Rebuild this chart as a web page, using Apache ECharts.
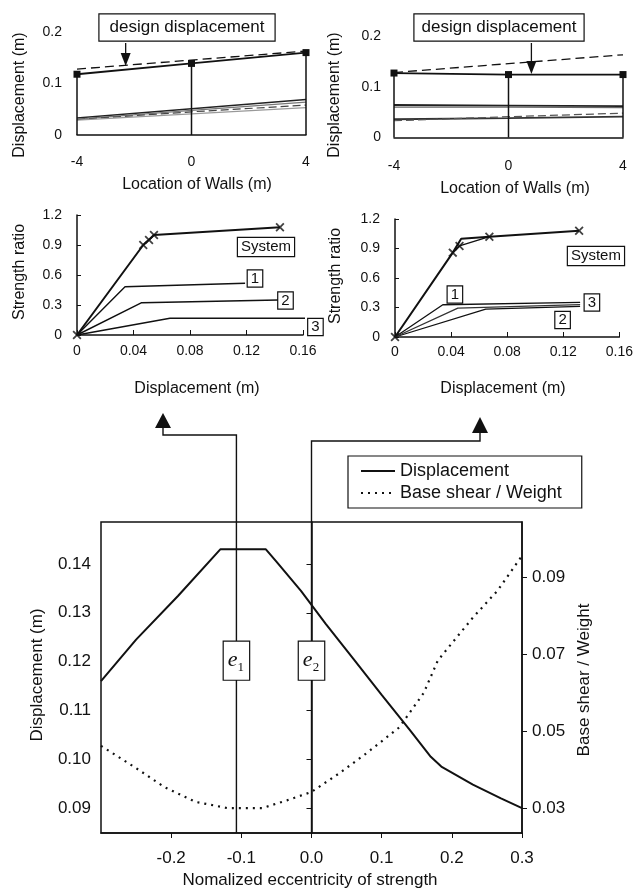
<!DOCTYPE html>
<html>
<head>
<meta charset="utf-8">
<script src="https://cdn.jsdelivr.net/npm/echarts@6/dist/echarts.min.js"></script>
<style>
  html, body { margin: 0; padding: 0; background: #fff; }
  #chart { width: 636px; height: 888px; }
</style>
</head>
<body>
<div id="chart"></div>
<script>
// ---- data ----
// top panels: displacement at the three walls (m)
var wallPos = [-4, 0, 4];
var designDisp = [0.128, 0.1455, 0.163];
var sysDispA = [0.118, 0.139, 0.160];
var wallDispA1 = [0.033, 0.051, 0.069];
var wallDispA2 = [0.031, 0.048, 0.064];
var wallDispA3 = [0.030, 0.045, 0.058];
var wallDispA4 = [0.029, 0.041, 0.053];
var sysDispB = [0.127, 0.124, 0.124];
var wallDispB1 = [0.064, 0.063, 0.062];
var wallDispB2 = [0.060, 0.060, 0.059];
var wallDispB3 = [0.036, 0.038, 0.041];
var wallDispB4 = [0.033, 0.041, 0.048];

// middle panels: [displacement (m), strength ratio]
var pushSysA = [[0, 0], [0.0469, 0.90], [0.0545, 1.00], [0.1437, 1.077]];
var pushSysAMarks = [[0, 0], [0.0469, 0.90], [0.051, 0.95], [0.0545, 1.00], [0.1437, 1.077]];
var pushA1 = [[0, 0], [0.034, 0.483], [0.119, 0.517]];
var pushA2 = [[0, 0], [0.0458, 0.323], [0.1425, 0.35]];
var pushA3 = [[0, 0], [0.0658, 0.167], [0.163, 0.167]];

var pushSysB = [[0, 0], [0.0412, 0.858], [0.0472, 1.00], [0.0673, 1.02], [0.1313, 1.08]];
var pushSysB2 = [[0.0412, 0.858], [0.046, 0.926], [0.0673, 1.02]];
var pushSysBMarks = [[0, 0], [0.0412, 0.858], [0.046, 0.926], [0.0673, 1.02], [0.1313, 1.08]];
var pushB1 = [[0, 0], [0.0341, 0.328], [0.132, 0.352]];
var pushB2 = [[0, 0], [0.0647, 0.284], [0.132, 0.311]];
var pushB3 = [[0, 0], [0.0448, 0.294], [0.132, 0.33]];

// bottom panel: [normalized eccentricity, value]
var dispCurve = [[-0.30, 0.116], [-0.25, 0.1245], [-0.19, 0.1335], [-0.13, 0.143], [-0.065, 0.143],
  [-0.05, 0.1405], [-0.015, 0.1345], [0.02, 0.1278], [0.06, 0.1205], [0.10, 0.1132], [0.14, 0.1060],
  [0.17, 0.1005], [0.185, 0.0985], [0.23, 0.0948], [0.27, 0.092], [0.30, 0.090]];
var shearCurve = [[-0.30, 0.0462], [-0.25, 0.0404], [-0.21, 0.0355], [-0.165, 0.0316], [-0.12, 0.0300],
  [-0.07, 0.0300], [-0.035, 0.0320], [0.0, 0.0342], [0.04, 0.0391], [0.08, 0.0445], [0.125, 0.0510],
  [0.16, 0.0600], [0.18, 0.0684], [0.195, 0.0718], [0.23, 0.0796], [0.265, 0.0866], [0.30, 0.0957]];
var eccE1 = -0.107;
var eccE2 = 0.0;

// tick labels
var eccTicks = [-0.2, -0.1, 0.0, 0.1, 0.2, 0.3];
var dispTicks = [0.09, 0.10, 0.11, 0.12, 0.13, 0.14];
var shearTicks = [0.03, 0.05, 0.07, 0.09];

// ---- styles ----
var INK = '#111';
var FONT = 'Liberation Sans, Arial, sans-serif';
var X_MARK = 'path://M0,1.4L1.4,0L5,3.6L8.6,0L10,1.4L6.4,5L10,8.6L8.6,10L5,6.4L1.4,10L0,8.6L3.6,5Z';

function zip(xs, ys) {
    return xs.map(function(x, i) { return [x, ys[i]]; });
}

function lbl(size, margin, extra) {
    var o = { color: INK, fontSize: size, fontFamily: FONT, margin: margin };
    for (var k in extra || {}) o[k] = extra[k];
    return o;
}

function line(axis, data, width, color, type, extra) {
    var s = {
        type: 'line', xAxisIndex: axis, yAxisIndex: axis, data: data,
        symbol: 'none', silent: true, animation: false,
        lineStyle: { color: color || INK, width: width, type: type || 'solid' }
    };
    for (var k in extra || {}) s[k] = extra[k];
    return s;
}

function marks(axis, data) {
    return {
        type: 'scatter', xAxisIndex: axis, yAxisIndex: axis, data: data,
        symbol: X_MARK, symbolSize: 9, itemStyle: { color: INK }, silent: true, z: 5
    };
}

var chart = echarts.init(document.getElementById('chart'));

var series = [];
// top-left
series.push(line(0, zip(wallPos, designDisp), 1.3, INK, [9, 5]));
series.push(line(0, zip(wallPos, wallDispA1), 1.6, '#222'));
series.push(line(0, zip(wallPos, wallDispA2), 1.2, '#777'));
series.push(line(0, zip(wallPos, wallDispA3), 1.2, '#444', [8, 4]));
series.push(line(0, zip(wallPos, wallDispA4), 1.2, '#999'));
wallPos.forEach(function(w, i) {
    series.push(line(0, [[w, 0], [w, sysDispA[i]]], 1.5));
});
series.push(line(0, zip(wallPos, sysDispA), 1.8, INK, 'solid',
    { symbol: 'rect', symbolSize: 7, itemStyle: { color: INK } }));
// top-right
series.push(line(1, zip(wallPos, designDisp), 1.3, INK, [9, 5]));
series.push(line(1, zip(wallPos, wallDispB1), 1.8, '#222'));
series.push(line(1, zip(wallPos, wallDispB2), 1.2, '#666'));
series.push(line(1, zip(wallPos, wallDispB3), 1.8, '#333'));
series.push(line(1, zip(wallPos, wallDispB4), 1.2, '#555', [8, 4]));
wallPos.forEach(function(w, i) {
    series.push(line(1, [[w, 0], [w, sysDispB[i]]], 1.5));
});
series.push(line(1, zip(wallPos, sysDispB), 1.8, INK, 'solid',
    { symbol: 'rect', symbolSize: 7, itemStyle: { color: INK } }));
// middle-left
series.push(line(2, pushSysA, 2));
series.push(line(2, pushA1, 1.4));
series.push(line(2, pushA2, 1.4));
series.push(line(2, pushA3, 1.4, INK, 'solid', { clip: false }));
series.push(marks(2, pushSysAMarks));
// middle-right
series.push(line(3, pushSysB, 2));
series.push(line(3, pushSysB2, 1.4));
series.push(line(3, pushB1, 1.3));
series.push(line(3, pushB2, 1.3));
series.push(line(3, pushB3, 1.3, '#333'));
series.push(marks(3, pushSysBMarks));
// bottom
series.push({
    name: 'Displacement', type: 'line', xAxisIndex: 4, yAxisIndex: 4, data: dispCurve,
    symbol: 'none', silent: true, lineStyle: { color: INK, width: 2 }, itemStyle: { color: INK }
});
series.push({
    name: 'Base shear / Weight', type: 'line', xAxisIndex: 4, yAxisIndex: 5, data: shearCurve,
    symbol: 'none', silent: true, lineStyle: { color: INK, width: 2.2, type: [2, 5] }, itemStyle: { color: INK }
});

var axisLine = { show: true, lineStyle: { color: INK, width: 1.5 } };
var noLine = { show: false };

var option = {
    animation: false,
    backgroundColor: '#fff',
    textStyle: { fontFamily: FONT, color: INK },
    grid: [
        { left: 77, top: 32, width: 229, height: 103, containLabel: false },
        { left: 394, top: 36, width: 229, height: 101.5, containLabel: false },
        { left: 77, top: 215, width: 226, height: 120, containLabel: false },
        { left: 395, top: 219, width: 225, height: 118, containLabel: false },
        { left: 101, top: 522, width: 421, height: 311, containLabel: false,
          show: true, borderColor: INK, borderWidth: 1.5, backgroundColor: 'transparent' }
    ],
    legend: {
        left: 348, top: 456, orient: 'vertical',
        itemWidth: 34, itemHeight: 12, itemGap: 4,
        padding: [6, 20, 6, 12],
        borderColor: INK, borderWidth: 1.2, borderRadius: 0,
        backgroundColor: '#fff',
        itemStyle: { opacity: 0 },
        textStyle: { color: INK, fontSize: 18, fontFamily: FONT },
        data: ['Displacement', 'Base shear / Weight']
    },
    xAxis: [
        { gridIndex: 0, type: 'value', min: -4, max: 4, interval: 4, axisLine: axisLine,
          axisTick: noLine, splitLine: noLine, axisLabel: lbl(14, 20) },
        { gridIndex: 1, type: 'value', min: -4, max: 4, interval: 4, axisLine: axisLine,
          axisTick: noLine, splitLine: noLine, axisLabel: lbl(14, 22) },
        { gridIndex: 2, type: 'value', min: 0, max: 0.16, interval: 0.04, axisLine: axisLine,
          axisTick: { inside: true, length: 5, lineStyle: { color: INK } }, splitLine: noLine,
          axisLabel: lbl(14, 9) },
        { gridIndex: 3, type: 'value', min: 0, max: 0.16, interval: 0.04, axisLine: axisLine,
          axisTick: { inside: true, length: 5, lineStyle: { color: INK } }, splitLine: noLine,
          axisLabel: lbl(14, 8) },
        { gridIndex: 4, type: 'value', min: -0.3, max: 0.3, axisLine: axisLine,
          axisTick: { length: 5, customValues: eccTicks, lineStyle: { color: INK } }, splitLine: noLine,
          axisLabel: lbl(17, 17, {
              customValues: eccTicks,
              formatter: function(v) { return Math.abs(v) < 1e-9 ? '0.0' : v.toFixed(1); }
          }) }
    ],
    yAxis: [
        { gridIndex: 0, type: 'value', min: 0, max: 0.2, interval: 0.1, axisLine: noLine,
          axisTick: noLine, splitLine: noLine, axisLabel: lbl(14, 15) },
        { gridIndex: 1, type: 'value', min: 0, max: 0.2, interval: 0.1, axisLine: noLine,
          axisTick: noLine, splitLine: noLine, axisLabel: lbl(14, 13) },
        { gridIndex: 2, type: 'value', min: 0, max: 1.2, interval: 0.3, axisLine: axisLine,
          axisTick: { show: true, inside: true, length: 4, lineStyle: { color: INK } }, splitLine: noLine,
          axisLabel: lbl(14, 15) },
        { gridIndex: 3, type: 'value', min: 0, max: 1.2, interval: 0.3, axisLine: axisLine,
          axisTick: { show: true, inside: true, length: 4, lineStyle: { color: INK } }, splitLine: noLine,
          axisLabel: lbl(14, 15) },
        { gridIndex: 4, type: 'value', position: 'left', min: 0.0849, max: 0.1486, axisLine: axisLine,
          axisTick: { show: true, length: 5, customValues: dispTicks, lineStyle: { color: INK } },
          splitLine: noLine,
          axisLabel: lbl(17, 10, { customValues: dispTicks, formatter: function(v) { return v.toFixed(2); } }) },
        { gridIndex: 4, type: 'value', position: 'right', min: 0.0235, max: 0.1045, axisLine: axisLine,
          axisTick: { show: true, length: 5, customValues: shearTicks, lineStyle: { color: INK } },
          splitLine: noLine,
          axisLabel: lbl(17, 10, { customValues: shearTicks, formatter: function(v) { return v.toFixed(2); } }) }
    ],
    series: series
};

chart.setOption(option);

// ---- annotations (anchored to data through the axes) ----
function at(axis, yAxis, pt) {
    return chart.convertToPixel({ xAxisIndex: axis, yAxisIndex: yAxis }, pt);
}

function txt(x, y, s, size, rot, extra) {
    var st = { text: s, fontSize: size, fontFamily: FONT, fill: INK,
               align: 'center', verticalAlign: 'middle', textAlign: 'center', textVerticalAlign: 'middle' };
    for (var k in extra || {}) st[k] = extra[k];
    return { type: 'text', x: x, y: y, rotation: rot || 0, z: 60, style: st };
}

function boxed(p, s, size, pad) {
    return txt(p[0], p[1], s, size, 0,
        { backgroundColor: '#fff', borderColor: INK, borderWidth: 1.2, padding: pad });
}

function arrowDown(x, y0, tip) {
    return [
        { type: 'line', z: 55, shape: { x1: x, y1: y0, x2: x, y2: tip - 12 }, style: { stroke: INK, lineWidth: 1.3 } },
        { type: 'polygon', z: 55, shape: { points: [[x - 5, tip - 13], [x + 5, tip - 13], [x, tip]] }, style: { fill: INK } }
    ];
}

var g = [];
var V = Math.PI / 2;

// axis titles
g.push(txt(20, 95, 'Displacement (m)', 16, V));
g.push(txt(335, 95, 'Displacement (m)', 16, V));
g.push(txt(197, 185, 'Location of Walls (m)', 16));
g.push(txt(515, 189, 'Location of Walls (m)', 16));
g.push(txt(20, 272, 'Strength ratio', 16, V));
g.push(txt(336, 276, 'Strength ratio', 16, V));
g.push(txt(197, 389, 'Displacement (m)', 16));
g.push(txt(503, 389, 'Displacement (m)', 16));
g.push(txt(37, 675, 'Displacement (m)', 17, V));
g.push(txt(584, 680, 'Base shear / Weight', 17, V));
g.push(txt(310, 880, 'Nomalized eccentricity of strength', 17));

// design displacement callouts
var tipA = at(0, 0, [-2.3, 0.134]);
var tipB = at(1, 1, [0.8, 0.125]);
g.push(boxed([187, 27.5], 'design displacement', 17, [5, 10, 4, 10]));
g.push(boxed([499, 27.5], 'design displacement', 17, [5, 7, 4, 7]));
g = g.concat(arrowDown(tipA[0], 43, tipA[1]));
g = g.concat(arrowDown(tipB[0], 43, tipB[1]));

// curve tags in the pushover panels
g.push(boxed(at(2, 2, [0.1338, 0.88]), 'System', 15, [2, 3, 1, 3]));
g.push(boxed(at(2, 2, [0.126, 0.565]), '1', 15, [1, 3, 0, 3]));
g.push(boxed(at(2, 2, [0.1476, 0.345]), '2', 15, [1, 3, 0, 3]));
g.push(boxed(at(2, 2, [0.1688, 0.08]), '3', 15, [1, 3, 0, 3]));
g.push(boxed(at(3, 3, [0.1433, 0.824]), 'System', 15, [2, 3, 1, 3]));
g.push(boxed(at(3, 3, [0.0427, 0.432]), '1', 15, [1, 3, 0, 3]));
g.push(boxed(at(3, 3, [0.1404, 0.351]), '3', 15, [1, 3, 0, 3]));
g.push(boxed(at(3, 3, [0.1195, 0.173]), '2', 15, [1, 3, 0, 3]));

// e1 / e2 leaders up to the pushover panels
var e1Bot = at(4, 4, [eccE1, 0.0849]);
var e2Bot = at(4, 4, [eccE2, 0.0849]);
g.push({ type: 'polyline', z: 50, shape: { points: [e1Bot, [e1Bot[0], 435], [163, 435], [163, 427]] },
         style: { stroke: INK, lineWidth: 1.4, fill: null } });
g.push({ type: 'polygon', z: 50, shape: { points: [[155, 428], [171, 428], [163, 413]] }, style: { fill: INK } });
g.push({ type: 'polyline', z: 50, shape: { points: [e2Bot, [e2Bot[0], 441], [480, 441], [480, 432]] },
         style: { stroke: INK, lineWidth: 1.4, fill: null } });
g.push({ type: 'polygon', z: 50, shape: { points: [[472, 433], [488, 433], [480, 417]] }, style: { fill: INK } });

var eRich = {
    e: { fontFamily: 'Liberation Serif, DejaVu Serif, serif', fontStyle: 'italic', fontSize: 22, fill: INK, lineHeight: 26 },
    s: { fontFamily: 'Liberation Serif, DejaVu Serif, serif', fontSize: 13, fill: INK, lineHeight: 26, verticalAlign: 'bottom', padding: [12, 0, 0, 0] }
};
var e1Box = at(4, 4, [eccE1, 0.1202]);
var e2Box = at(4, 4, [eccE2, 0.1202]);
g.push(txt(e1Box[0], e1Box[1], '{e|e}{s|1}', 22, 0,
    { rich: eRich, backgroundColor: '#fff', borderColor: INK, borderWidth: 1.2, padding: [6, 5, 6, 4] }));
g.push(txt(e2Box[0], e2Box[1], '{e|e}{s|2}', 22, 0,
    { rich: eRich, backgroundColor: '#fff', borderColor: INK, borderWidth: 1.2, padding: [6, 5, 6, 4] }));

chart.setOption({ graphic: { elements: g } });
</script>
</body>
</html>
